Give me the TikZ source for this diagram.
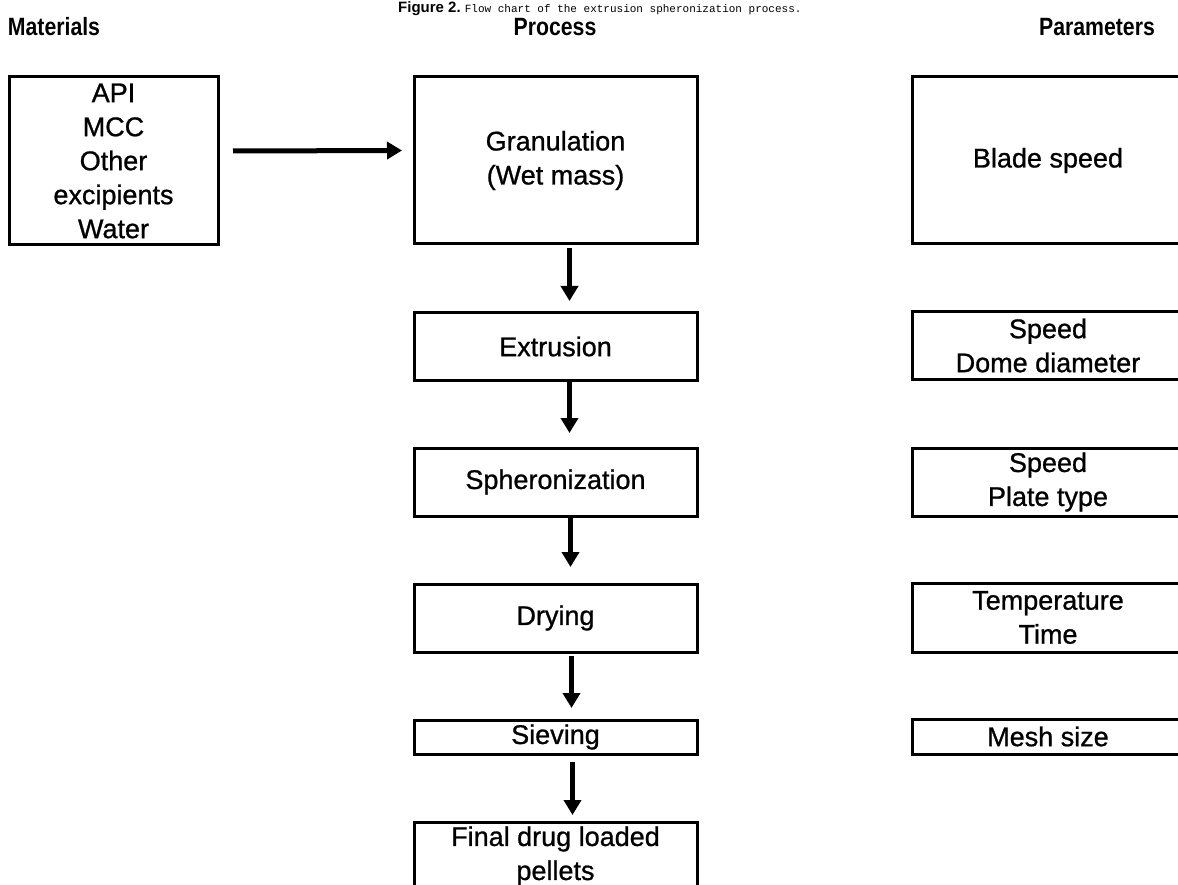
\documentclass[tikz,border=0pt]{standalone}
\usepackage{fontspec}
\setmainfont{Liberation Sans}
\setmonofont{Liberation Mono}
\newfontfamily\headfont[FakeStretch=0.85]{Liberation Sans}
\newfontfamily\bodyfont[FakeBold=0.9]{Liberation Sans}
\usetikzlibrary{arrows.meta}

\tikzset{
  box/.style={draw, line width=3pt, inner sep=0pt, outer sep=0pt, align=center,
              font=\bodyfont\fontsize{27}{34}\selectfont},
  head/.style={anchor=base, font=\headfont\bfseries\fontsize{25}{30}\selectfont},
  arr/.style={line width=5pt, -{Triangle[length=15pt,width=17pt]}}
}

\begin{document}
\begin{tikzpicture}[x=1pt,y=-1pt]

\useasboundingbox (0,0) rectangle (1178,885);
\clip (0,0) rectangle (1178,885);

%% caption and column titles
\node (cap) [anchor=base west, inner sep=0pt] at (398,13)
  {\fontsize{15}{18}\selectfont\bfseries Figure 2.\ \mdseries\ttfamily\fontsize{11}{14}\selectfont Flow chart of the extrusion spheronization process.};
\node (hmat)  [head] at (54,36)   {Materials};
\node (hproc) [head] at (555,36)  {Process};
\node (hpar)  [head] at (1097,36) {Parameters};

%% materials
\node (mat) [box, minimum width=209pt, minimum height=168pt] at (113.5,161)
  {API\\MCC\\Other\\excipients\\Water};

%% process steps
\node (gran) [box, minimum width=283pt, minimum height=167pt] at (555.5,160.5) {Granulation\\(Wet mass)};
\node (extr) [box, minimum width=283pt, minimum height=67pt]  at (555.5,346.5) {Extrusion};
\node (sphe) [box, minimum width=283pt, minimum height=68pt]  at (555.5,482)   {Spheronization};
\node (dry)  [box, minimum width=283pt, minimum height=68pt]  at (555.5,618)   {Drying};
\node (siev) [box, minimum width=283pt, minimum height=34pt]  at (555.5,737)   {Sieving};
\node (fin)  [box, minimum width=283pt, minimum height=68pt]  at (555.5,856)   {Final drug loaded\\pellets};

%% parameters
\node (pgran) [box, minimum width=272pt, minimum height=167pt] at (1048,160.5) {Blade speed};
\node (pextr) [box, minimum width=272pt, minimum height=67pt]  at (1048,345.5) {Speed\\Dome diameter};
\node (psphe) [box, minimum width=272pt, minimum height=68pt]  at (1048,482)   {Speed\\Plate type};
\node (pdry)  [box, minimum width=272pt, minimum height=69pt]  at (1048,617.5) {Temperature\\Time};
\node (psiev) [box, minimum width=272pt, minimum height=35pt]  at (1048,736.5) {Mesh size};

%% arrows
\draw[arr] ([xshift=15pt,yshift=10pt]mat.east) -- ([xshift=-12pt,yshift=10pt]gran.west);  %% mat-gran
\draw[arr] ([xshift=14pt,yshift=-4pt]gran.south) -- ([xshift=14pt,yshift=12pt]extr.north); %% gran-extr
\draw[arr] ([xshift=14pt]extr.south) -- ([xshift=14pt,yshift=15pt]sphe.north);             %% extr-sphe
\draw[arr] ([xshift=15pt]sphe.south) -- ([xshift=15pt,yshift=17pt]dry.north);              %% sphe-dry
\draw[arr] ([xshift=16pt,yshift=-4pt]dry.south) -- ([xshift=16pt,yshift=12pt]siev.north);  %% dry-siev
\draw[arr] ([xshift=17pt,yshift=-8pt]siev.south) -- ([xshift=17pt,yshift=7pt]fin.north);   %% siev-fin

\end{tikzpicture}
\end{document}
